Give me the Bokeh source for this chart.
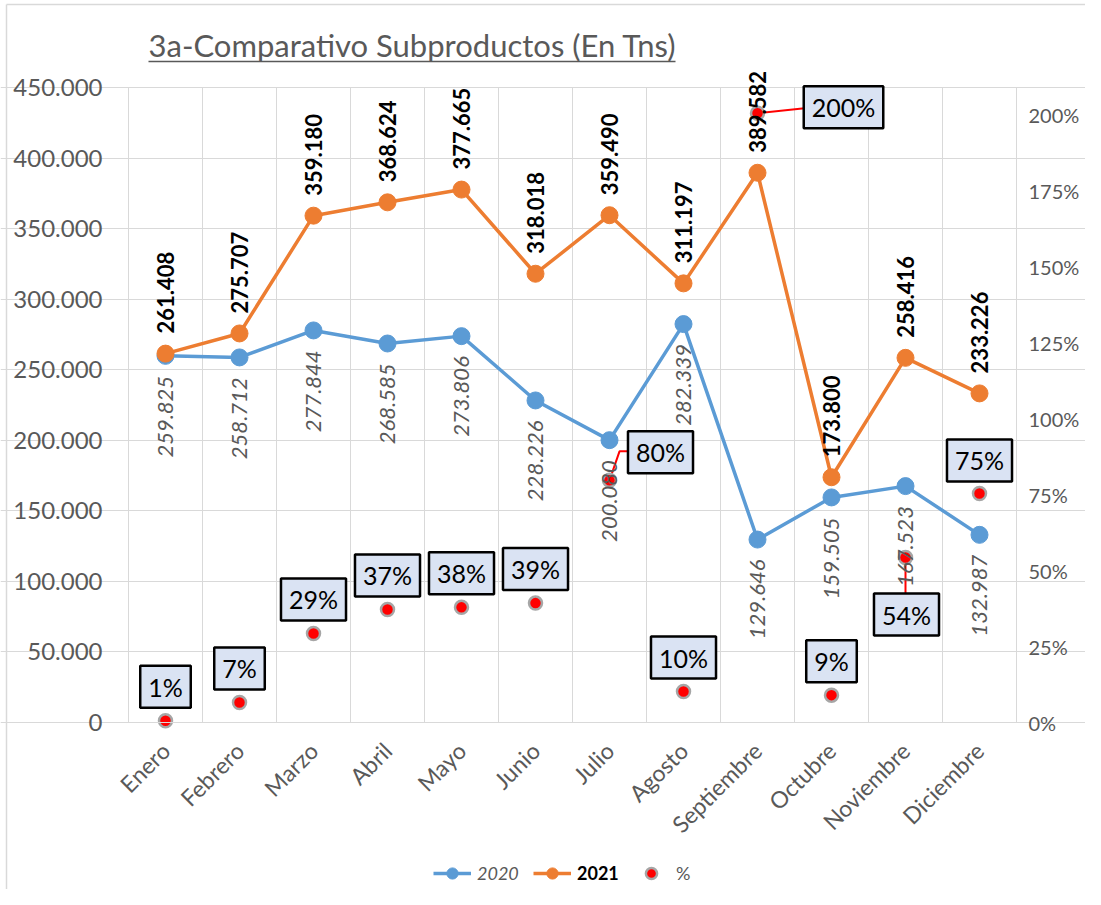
import math
from bokeh.plotting import figure
from bokeh.models import (Range1d, LinearAxis, FixedTicker, ColumnDataSource,
                          LabelSet, Label, Legend, LegendItem)
from bokeh.embed import file_html
from bokeh.resources import INLINE
from bokeh.core.properties import value

# ---------------- data ----------------
months = ["Enero", "Febrero", "Marzo", "Abril", "Mayo", "Junio", "Julio",
          "Agosto", "Septiembre", "Octubre", "Noviembre", "Diciembre"]
values_2020 = [259825, 258712, 277844, 268585, 273806, 228226, 200080,
               282339, 129646, 159505, 167523, 132987]
values_2021 = [261408, 275707, 359180, 368624, 377665, 318018, 359490,
               311197, 389582, 173800, 258416, 233226]
pct_values = [0.006, 0.066, 0.293, 0.372, 0.379, 0.393, 0.797,
              0.102, 2.005, 0.090, 0.543, 0.754]
pct_labels = ["1%", "7%", "29%", "37%", "38%", "39%", "80%",
              "10%", "200%", "9%", "54%", "75%"]
left_ticks = [0, 50000, 100000, 150000, 200000, 250000, 300000, 350000, 400000, 450000]
left_tick_labels = ["0", "50.000", "100.000", "150.000", "200.000", "250.000",
                    "300.000", "350.000", "400.000", "450.000"]
right_ticks = [0, 0.25, 0.5, 0.75, 1.0, 1.25, 1.5, 1.75, 2.0]
right_tick_labels = ["0%", "25%", "50%", "75%", "100%", "125%", "150%", "175%", "200%"]
title_text = "3a-Comparativo Subproductos (En Tns)"

# ---------------- layout / styling ----------------
FONT = "Lato"
BLUE = "#5B9BD5"
ORANGE = "#ED7D31"
GRAY_TXT = "#595959"
GRID = "#D9D9D9"
W, H = 1085, 889
LEFT = 128            # plot area left edge (px)
FW = 888              # plot area width (px)
PLOT_TOP, PLOT_BOT = 87, 722   # plot area top / bottom (px from top)
LEFT_MAX = 450000
PCT_AT_TOP = 2.09     # right-axis value at the plot-area top
NCAT = len(months)

k = (PLOT_BOT - PLOT_TOP) / LEFT_MAX          # px per left unit
kp = (PLOT_BOT - PLOT_TOP) / PCT_AT_TOP       # px per right unit
px_x = FW / NCAT                              # px per category

def X(px):  # page px -> x data
    return -0.5 + (px - LEFT) / px_x

def Y(py):  # page px -> left-axis data
    return (PLOT_BOT - py) / k

def fmt(v):
    return f"{v:,}".replace(",", ".")

x_idx = list(range(NCAT))

# offsets of the percent boxes (pixels, +x right, +y down)
box_dx = [0] * NCAT
box_dy = [-34] * NCAT
box_dx[6], box_dy[6] = 51, -28
box_dx[8], box_dy[8] = 86, -6
box_dx[10], box_dy[10] = 1, 57
box_dy[11] = -33

src = ColumnDataSource(dict(
    x=x_idx, v2020=values_2020, v2021=values_2021, pct=pct_values,
    t2020=[fmt(v) for v in values_2020], t2021=[fmt(v) for v in values_2021],
    tpct=pct_labels, bx=box_dx, by=box_dy,
))

p = figure(frame_width=W, frame_height=H,
           x_range=Range1d(X(0), X(W)), y_range=Range1d(Y(H), Y(0)),
           output_backend="svg", toolbar_location=None,
           min_border_left=0, min_border_right=0, min_border_top=0, min_border_bottom=0,
           background_fill_color="white", border_fill_color="white")
p.outline_line_color = None
p.extra_y_ranges = {"pct": Range1d((PLOT_BOT - H) / kp, PLOT_BOT / kp)}

# axes (fixed at the plot-area edges)
p.xaxis.ticker = FixedTicker(ticks=x_idx)
p.xaxis.major_label_overrides = {i: m for i, m in zip(x_idx, months)}
p.xaxis.major_label_orientation = math.pi / 4
p.xaxis.axis_line_color = GRID
p.xaxis.bounds = (-0.5, NCAT - 0.5)
p.xaxis.fixed_location = 0
p.yaxis.ticker = FixedTicker(ticks=left_ticks)
p.yaxis.major_label_overrides = {t: l for t, l in zip(left_ticks, left_tick_labels)}
p.yaxis.axis_line_color = None
p.yaxis.fixed_location = -0.5

rax = LinearAxis(y_range_name="pct", ticker=FixedTicker(ticks=right_ticks),
                 major_label_overrides={t: l for t, l in zip(right_ticks, right_tick_labels)})
rax.axis_line_color = None
rax.fixed_location = NCAT - 0.5
p.add_layout(rax, "right")

for ax in [p.xaxis[0], p.yaxis[0], rax]:
    ax.major_tick_line_color = None
    ax.minor_tick_line_color = None
    ax.major_label_text_font = FONT
    ax.major_label_text_font_size = "24px"
    ax.major_label_text_color = GRAY_TXT
p.xaxis.major_label_text_font_size = "23px"
rax.major_label_text_font_size = "20px"
p.yaxis.major_label_standoff = 20
rax.major_label_standoff = 6
p.xaxis.major_label_standoff = 18

# grid: horizontal from ticker, vertical lines between categories over the plot area
p.xgrid.visible = False
p.ygrid.ticker = FixedTicker(ticks=left_ticks)
p.ygrid.grid_line_color = GRID
p.ygrid.bounds = (-0.5, NCAT - 0.5)
bounds = [i - 0.5 for i in range(NCAT + 1)]
p.segment(x0=bounds, x1=bounds, y0=[0] * len(bounds), y1=[LEFT_MAX] * len(bounds),
          line_color=GRID, line_width=1)

# chart-area border (top and left edges visible in the picture)
p.segment(x0=[X(6), X(6)], x1=[X(6), X(W + 20)], y0=[Y(H + 20), Y(4)], y1=[Y(4), Y(4)],
          line_color=GRID, line_width=1.5)

# series
l20 = p.line("x", "v2020", source=src, line_color=BLUE, line_width=3.5)
s20 = p.scatter("x", "v2020", source=src, size=17, fill_color=BLUE, line_color=BLUE)
l21 = p.line("x", "v2021", source=src, line_color=ORANGE, line_width=3.5)
s21 = p.scatter("x", "v2021", source=src, size=17, fill_color=ORANGE, line_color=ORANGE)

# leader lines for the moved percent boxes (pixel offsets converted to data units)
leaders = {6: [(0, 0), (10, 29), (19, 29)], 8: [(0, 0), (47, 5)], 10: [(0, 0), (0, -36)]}
lx, ly = [], []
for i, path in leaders.items():
    lx.append([x_idx[i] + dx / px_x for dx, dy in path])
    ly.append([pct_values[i] + dy / kp for dx, dy in path])
p.multi_line(lx, ly, line_color="red", line_width=2, y_range_name="pct")

sp = p.scatter("x", "pct", source=src, y_range_name="pct", size=13,
               fill_color="#FF0000", line_color="#A6A6A6", line_width=2.5)

# data labels
lab21 = LabelSet(x="x", y="v2021", text="t2021", source=src, angle=math.pi / 2,
                 text_align="left", text_baseline="middle", y_offset=20,
                 text_font=value(FONT), text_font_size="22px", text_font_style="bold",
                 text_color="black")
lab20 = LabelSet(x="x", y="v2020", text="t2020", source=src, angle=math.pi / 2,
                 text_align="right", text_baseline="middle", y_offset=-20,
                 text_font=value(FONT), text_font_size="22px", text_font_style="italic",
                 text_color=GRAY_TXT)
p.add_layout(lab20)
p.add_layout(lab21)

p.text("x", "pct", text="tpct", source=src, y_range_name="pct",
       x_offset="bx", y_offset="by", text_align="center", text_baseline="middle",
       text_font=value(FONT), text_font_size="25px", text_color="black",
       background_fill_color="#DAE3F3", border_line_color="black",
       border_line_width=2.5, padding=(8, 6))

# title with underline
tx = X(148)
p.add_layout(Label(x=tx, y=Y(44), text=title_text,
                   text_font=FONT, text_font_size="31px", text_color=GRAY_TXT,
                   text_baseline="alphabetic"))
p.segment(x0=[tx], x1=[X(675)], y0=[Y(61)], y1=[Y(61)], line_color=GRAY_TXT, line_width=1.5)

# legends (three, each with its own label style)
def add_legend(label, renderers, xloc, style, color):
    lg = Legend(items=[LegendItem(label=value(label), renderers=renderers)],
                location=(xloc, 2), orientation="horizontal",
                label_text_font=FONT, label_text_font_size="18px",
                label_text_font_style=style, label_text_color=color,
                glyph_width=38, glyph_height=28, label_height=28, label_standoff=6,
                padding=0, margin=0, border_line_color=None, background_fill_alpha=0)
    p.add_layout(lg)

add_legend("2020", [l20, s20], 433, "italic", GRAY_TXT)
add_legend("2021", [l21, s21], 533, "bold", "black")
add_legend("%", [sp], 632, "normal", GRAY_TXT)

open("out.html", "w").write(file_html(p, INLINE))
